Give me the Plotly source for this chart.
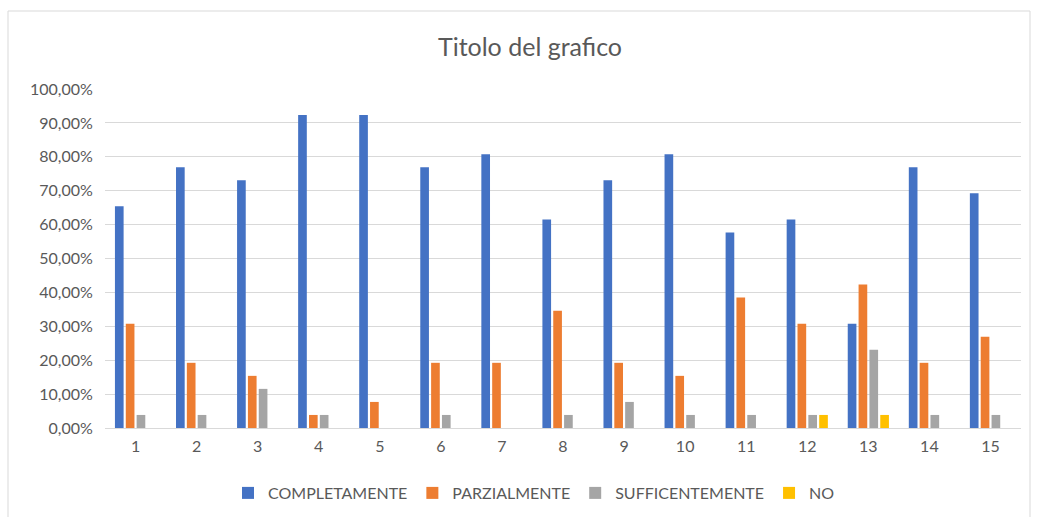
import plotly.graph_objects as go

categories = [str(i) for i in range(1, 16)]
completamente = [0.6538, 0.7692, 0.7308, 0.9231, 0.9231, 0.7692, 0.8077, 0.6154, 0.7308, 0.8077, 0.5769, 0.6154, 0.3077, 0.7692, 0.6923]
parzialmente = [0.3077, 0.1923, 0.1538, 0.0385, 0.0769, 0.1923, 0.1923, 0.3462, 0.1923, 0.1538, 0.3846, 0.3077, 0.4231, 0.1923, 0.2692]
sufficentemente = [0.0385, 0.0385, 0.1154, 0.0385, 0, 0.0385, 0, 0.0385, 0.0769, 0.0385, 0.0385, 0.0385, 0.2308, 0.0385, 0.0385]
no = [0, 0, 0, 0, 0, 0, 0, 0, 0, 0, 0, 0.0385, 0.0385, 0, 0]

series = [
    ("COMPLETAMENTE", completamente, "#4472C4"),
    ("PARZIALMENTE", parzialmente, "#ED7D31"),
    ("SUFFICENTEMENTE", sufficentemente, "#A5A5A5"),
    ("NO", no, "#FFC000"),
]

fig = go.Figure()
for name, vals, color in series:
    fig.add_trace(go.Bar(x=categories, y=vals, name=name, marker=dict(color=color, line=dict(width=0))))

L, R, T, B = 105, 17, 89, 89
W, H = 1038, 517
pw, ph = W - L - R, H - T - B

fig.update_layout(
    width=W, height=H,
    margin=dict(l=L, r=R, t=T, b=B, autoexpand=False),
    paper_bgcolor="white", plot_bgcolor="white",
    separators=",.",
    barmode="group", bargap=0.29, bargroupgap=0.2,
    font=dict(family="Lato, Open Sans, sans-serif", color="#595959", size=16),
    title=dict(text="Titolo del grafico", x=530 / W, xanchor="center", y=1 - 47 / H, yanchor="middle",
               font=dict(size=25, color="#595959")),
    legend=dict(orientation="h", x=534 / W, xanchor="center", xref="container", y=(428 - 493) / ph, yanchor="middle",
                font=dict(size=16, color="#595959"), itemwidth=30, traceorder="normal"),
    xaxis=dict(showgrid=False, showline=True, linecolor="#d9d9d9", ticks="outside", ticklen=4, tickcolor="white",
               tickfont=dict(size=16)),
    yaxis=dict(range=[0, 1.0], dtick=0.1, tickformat=".2%", showgrid=True, gridcolor="#d9d9d9",
               zeroline=False, showline=False, tickfont=dict(size=16), ticklen=8, ticks="outside", tickcolor="white"),
    shapes=[dict(type="rect", xref="paper", yref="paper",
                 x0=(8 - L) / pw, x1=(1030 - L) / pw, y0=(428 - 530) / ph, y1=(428 - 11) / ph,
                 line=dict(color="#d9d9d9", width=1), fillcolor="rgba(0,0,0,0)", layer="below")],
)

fig.write_html("out.html", config={"displayModeBar": False},
               post_script="document.body.style.margin='0';document.body.style.overflow='hidden';")
